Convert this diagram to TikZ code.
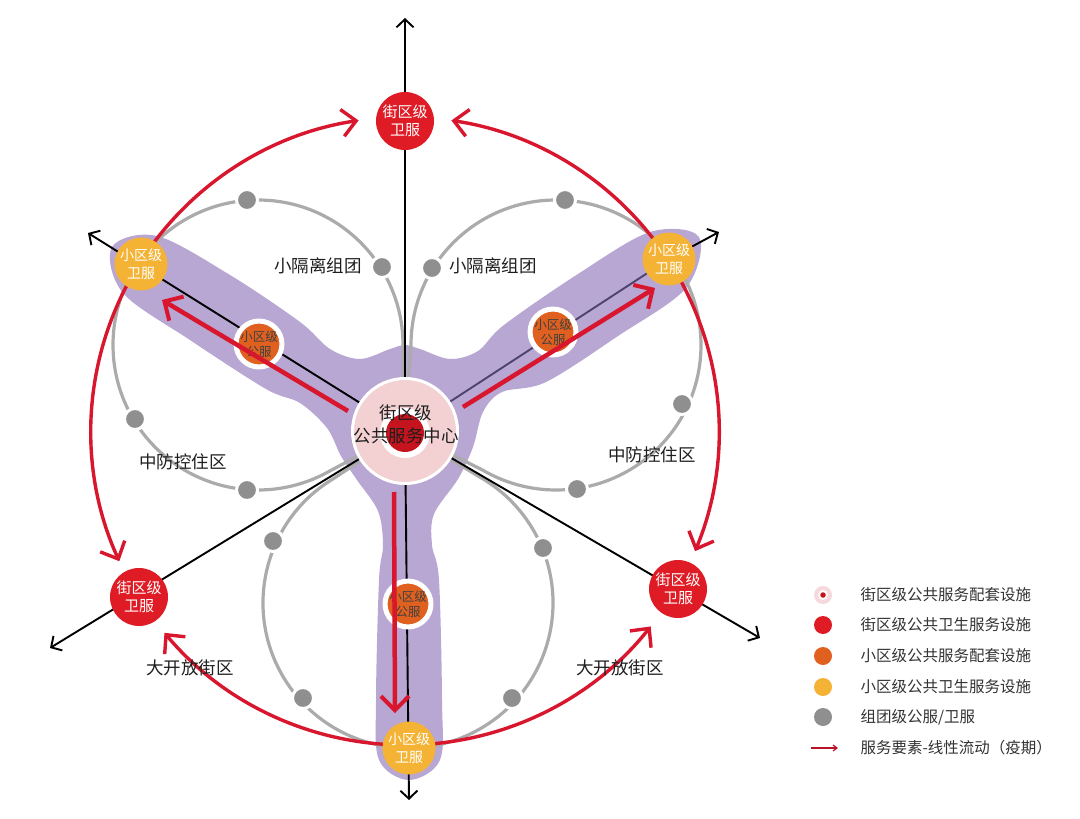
\documentclass[tikz,border=0pt]{standalone}
\usepackage{fontspec}
\setmainfont{Noto Sans CJK SC}
\usetikzlibrary{arrows.meta,calc}
\definecolor{cred}{HTML}{DF1B25}
\definecolor{carrow}{HTML}{D8172E}
\definecolor{cyellow}{HTML}{F5B335}
\definecolor{corange}{HTML}{E0601F}
\definecolor{cgraydot}{HTML}{8F8F8F}
\definecolor{cgrayline}{HTML}{ABABAB}
\definecolor{cpurple}{HTML}{B8A6D3}
\definecolor{cpurpleaxis}{HTML}{4E4270}
\definecolor{cpink}{HTML}{F3D0D2}
\definecolor{cdot}{HTML}{C5141E}
\definecolor{ctext}{HTML}{1E1E1E}
\definecolor{clegtext}{HTML}{333333}
\begin{document}
\begin{tikzpicture}[x=1pt,y=-1pt,
  axisline/.style={line width=1.9pt},
  axisarrow/.style={draw=black,line width=1.9pt,-{Straight Barb[length=8pt,width=17pt,line width=1.9pt]}},
  petal/.style={draw=cgrayline,line width=3.2pt},
  redarc/.style={draw=carrow,line width=3.4pt,-{Straight Barb[length=14pt,width=27pt,line width=3.4pt]}},
  redflow/.style={draw=carrow,line width=4.5pt,-{Straight Barb[length=14pt,width=28pt,line width=4pt]}},
  reddisk/.style={circle,fill=cred,minimum size=58pt,inner sep=0pt,text=white,align=center,font=\fontsize{15}{18.5}\selectfont},
  yellowdisk/.style={circle,fill=cyellow,minimum size=53pt,inner sep=0pt,text=white,align=center,font=\fontsize{14}{17.5}\selectfont},
  orangedisk/.style={circle,fill=corange,draw=white,line width=5pt,minimum size=41pt,inner sep=0pt,text=ctext!85,align=center,font=\fontsize{12.5}{15}\selectfont},
  graydot/.style={circle,fill=cgraydot,draw=white,line width=3pt,minimum size=21pt,inner sep=0pt},
  zonelabel/.style={text=ctext,font=\fontsize{17.5}{20}\selectfont},
  legsym/.style={circle,minimum size=18pt,inner sep=0pt},
  legtext/.style={anchor=west,text=clegtext,font=\fontsize{15.5}{18}\selectfont},
]
\useasboundingbox (0,0) rectangle (1080,819);
\fill[white] (0,0) rectangle (1080,819);

% key positions
\coordinate (C) at (405,431);
\coordinate (T) at (405,121);
\coordinate (Y1) at (141,264);
\coordinate (Y2) at (669,259);
\coordinate (Y3) at (409,748);
\coordinate (LL) at (139,597);
\coordinate (LR) at (678,589);
\coordinate (O1) at (259,344);
\coordinate (O2) at (553,332);
\coordinate (O3) at (408,604);
\coordinate (P1) at (258,345);
\coordinate (P2) at (556,345);
\coordinate (P3) at (408,603);
\coordinate (tipT) at (405,18);
\coordinate (tipUL) at (88,233);
\coordinate (tipUR) at (719,232);
\coordinate (tipLL) at (50,648);
\coordinate (tipLR) at (760,638);
\coordinate (tipB) at (409,800);

% purple hub
\fill[cpurple] plot[smooth cycle, tension=0.55] coordinates {
 (112,247) (157,236) (230,275) (300,322) (330,349) (360,359) (390,349) (405,345) (420,349)
 (450,359) (478,351) (504,325) (578,274) (650,232) (699,237) (686,288) (618,336) (546,382)
 (502,392) (483,412) (473,447) (458,479) (434,514) (432,545) (439,580) (442,700) (440,760)
 (409,780) (379,760) (376,700) (379,580) (383,545) (378,511) (357,480) (341,456) (327,428)
 (300,403) (266,389) (190,340) (123,293)};

% gray petals
\draw[petal] (C) -- ($(P1)+(0.3:145)$) arc[start angle=0.3,end angle=-299.7,radius=145] -- (C);
\draw[petal] (C) -- ($(P2)+(180.3:145)$) arc[start angle=180.3,end angle=480.3,radius=145] -- (C);
\draw[petal] (C) -- ($(P3)+(-121:145)$) arc[start angle=-121,end angle=-421,radius=145] -- (C);

% axes
\draw[axisarrow] (C) -- (tipT);
\draw[axisarrow] (C) -- (tipUL);
\draw[axisarrow] (C) -- (tipLL);
\draw[axisarrow] (C) -- (tipLR);
\draw[axisarrow] (C) -- (tipB);
\draw[axisline,draw=cpurpleaxis] (C) -- (Y2);
\draw[axisarrow] (Y2) -- (tipUR);

% big red arcs
\draw[redarc] ($(C)+(-147.7:314)$) arc[start angle=-147.7,end angle=-98.5,radius=314];
\draw[redarc] ($(C)+(-33.1:314)$) arc[start angle=-33.1,end angle=-81.5,radius=314];
\draw[redarc] ($(C)+(212.3:314)$) arc[start angle=212.3,end angle=155.5,radius=314];
\draw[redarc] ($(C)+(-33.1:314)$) arc[start angle=-33.1,end angle=22.5,radius=314];
\draw[redarc] ($(C)+(89.3:314)$) arc[start angle=89.3,end angle=140,radius=314];
\draw[redarc] ($(C)+(89.3:314)$) arc[start angle=89.3,end angle=38.5,radius=314];

% gray dots
\node[graydot] (g1) at (247,200) {};
\node[graydot] (g2) at (382,267) {};
\node[graydot] (g3) at (135,419) {};
\node[graydot] (g4) at (247,490) {};
\node[graydot] (g5) at (432,268) {};
\node[graydot] (g6) at (565,200) {};
\node[graydot] (g7) at (682,404) {};
\node[graydot] (g8) at (577,489) {};
\node[graydot] (g9) at (273,541) {};
\node[graydot] (g10) at (303,698) {};
\node[graydot] (g11) at (512,698) {};
\node[graydot] (g12) at (543,548) {};

% orange nodes
\node[orangedisk] (o1) at (O1) {小区级\\公服};
\node[orangedisk] (o2) at (O2) {小区级\\公服};
\node[orangedisk] (o3) at (O3) {小区级\\公服};

% red flow arrows
\coordinate (f1s) at (348,411); \coordinate (f1e) at (162,300);
\coordinate (f2s) at (463,407); \coordinate (f2e) at (655,288);
\coordinate (f3s) at (394,492); \coordinate (f3e) at (395,713);
\draw[redflow] (f1s) -- (f1e);
\draw[redflow] (f2s) -- (f2e);
\draw[redflow] (f3s) -- (f3e);

% yellow and red nodes
\node[yellowdisk] (y1) at (Y1) {小区级\\卫服};
\node[yellowdisk] (y2) at (Y2) {小区级\\卫服};
\node[yellowdisk] (y3) at (Y3) {小区级\\卫服};
\node[reddisk] (t) at (T) {街区级\\卫服};
\node[reddisk] (ll) at (LL) {街区级\\卫服};
\node[reddisk] (lr) at (LR) {街区级\\卫服};

% hub
\node[circle,fill=cpink,draw=white,line width=3pt,minimum size=105pt,inner sep=0pt] (hub) at (C) {};
\node[circle,fill=white,minimum size=50pt,inner sep=0pt] (hubring) at (405,433) {};
\node[circle,fill=cdot,minimum size=38pt,inner sep=0pt] (hubdot) at (405,433) {};
\node[align=center,text=ctext,font=\fontsize{17.5}{23}\selectfont] (hubtext) at (406,424) {街区级\\公共服务中心};

% zone labels
\node[zonelabel] (z1) at (318,266) {小隔离组团};
\node[zonelabel] (z2) at (493,266) {小隔离组团};
\node[zonelabel] (z3) at (183,462) {中防控住区};
\node[zonelabel] (z4) at (652,455) {中防控住区};
\node[zonelabel] (z5) at (190,668) {大开放街区};
\node[zonelabel] (z6) at (620,668) {大开放街区};

% legend
\node[legsym,fill=cpink!80] (l1) at (823,595) {};
\node[circle,fill=white!92!cpink,minimum size=10pt,inner sep=0pt] (l1b) at (823,595) {};
\node[circle,fill=cdot,minimum size=5.5pt,inner sep=0pt] (l1c) at (823,595) {};
\node[legtext] (t1) at (857,595) {街区级公共服务配套设施};
\node[legsym,fill=cred] (l2) at (823,625) {};
\node[legtext] (t2) at (857,625) {街区级公共卫生服务设施};
\node[legsym,fill=corange] (l3) at (823,656) {};
\node[legtext] (t3) at (857,656) {小区级公共服务配套设施};
\node[legsym,fill=cyellow] (l4) at (823,687) {};
\node[legtext] (t4) at (857,687) {小区级公共卫生服务设施};
\node[legsym,fill=cgraydot] (l5) at (823,717) {};
\node[legtext] (t5) at (857,717) {组团级公服/卫服};
\coordinate (l6s) at (811,748); \coordinate (l6e) at (838,748);
\draw[draw=carrow!85!black,line width=1.3pt,-{Straight Barb[length=4pt,width=6pt,line width=1.2pt]}] (l6s) -- (l6e);
\node[legtext] (t6) at (857,748) {服务要素-线性流动（疫期）};
\end{tikzpicture}
\end{document}
